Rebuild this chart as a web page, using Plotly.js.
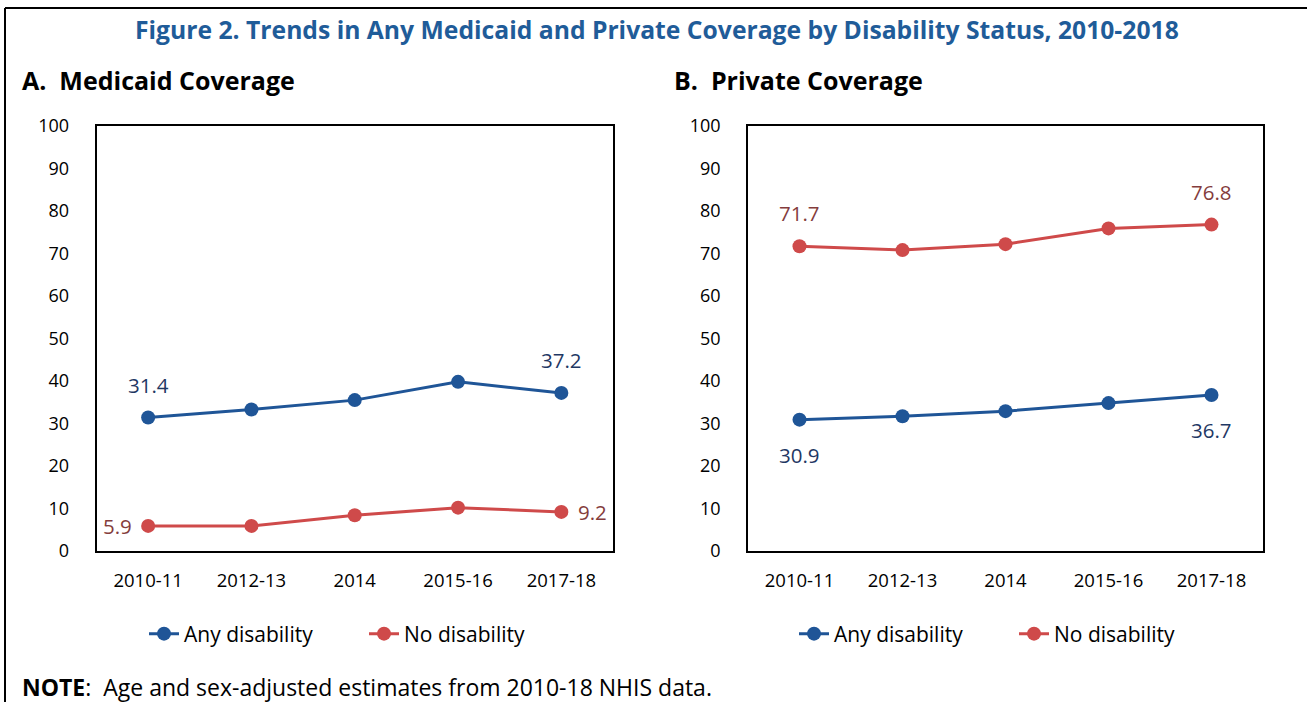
<!DOCTYPE html>
<html>
<head>
<meta charset="utf-8">
<script src="https://cdn.plot.ly/plotly-3.0.1.min.js"></script>
<style>
  html, body { margin: 0; padding: 0; background: #fff; }
  #chart { width: 1307px; height: 702px; }
</style>
</head>
<body>
<div id="chart"></div>
<script>
// ---- data ----
const periods = ['2010-11', '2012-13', '2014', '2015-16', '2017-18'];
const medicaidAny = [31.4, 33.3, 35.5, 39.8, 37.2];
const medicaidNone = [5.9, 5.9, 8.4, 10.2, 9.2];
const privateAny = [30.9, 31.7, 32.9, 34.8, 36.7];
const privateNone = [71.7, 70.8, 72.2, 75.9, 76.8];
const yTicks = [0, 10, 20, 30, 40, 50, 60, 70, 80, 90, 100];
const seriesNames = ['Any disability', 'No disability'];

const W = 1307, H = 702;
const px = v => v / W;
const py = v => 1 - v / H;

const FONT = '"Open Sans", "Noto Sans", sans-serif';
const BLUE = '#1f5597';
const RED = '#cf4a4a';
const BLUE_LBL = '#1f3864';
const RED_LBL = '#843c3c';

function trace(y, name, color, xa, ya, legend, showleg) {
  return {
    x: periods, y: y, name: name, type: 'scatter', mode: 'lines+markers',
    xaxis: xa, yaxis: ya, legend: legend, showlegend: showleg,
    line: { color: color, width: 3 },
    marker: { color: color, size: 14 },
    hoverinfo: 'skip'
  };
}

const data = [
  trace(medicaidAny, seriesNames[0], BLUE, 'x', 'y', 'legend', true),
  trace(medicaidNone, seriesNames[1], RED, 'x', 'y', 'legend', true),
  trace(privateAny, seriesNames[0], BLUE, 'x2', 'y2', 'legend2', true),
  trace(privateNone, seriesNames[1], RED, 'x2', 'y2', 'legend2', true)
];

function xAxis(domain, anchor) {
  return {
    domain: domain, anchor: anchor, type: 'category',
    range: [-0.5, 4.5], showgrid: false, zeroline: false,
    showline: true, mirror: true, linecolor: '#000', linewidth: 1.8,
    ticks: '', ticklabelstandoff: 12,
    tickfont: { family: FONT, size: 18.5, color: '#000' }
  };
}
function yAxis(anchor) {
  return {
    domain: [py(551), py(126)], anchor: anchor,
    range: [0, 100], tickmode: 'array', tickvals: yTicks,
    showgrid: false, zeroline: false,
    showline: true, mirror: true, linecolor: '#000', linewidth: 1.8,
    ticks: '', ticklabelstandoff: 22,
    tickfont: { family: FONT, size: 18, color: '#000' }
  };
}

function lbl(xref, yref, i, arr, color, xs, ys) {
  return {
    xref: xref, yref: yref, x: periods[i], y: arr[i],
    text: arr[i].toFixed(1), showarrow: false,
    xshift: xs, yshift: ys,
    font: { family: FONT, size: 20.5, color: color }
  };
}

const annotations = [
  { xref: 'paper', yref: 'paper', x: px(657), y: py(30), xanchor: 'center', yanchor: 'middle',
    text: '<b>Figure 2. Trends in Any Medicaid and Private Coverage by Disability Status, 2010-2018</b>',
    showarrow: false, font: { family: FONT, size: 24.7, color: '#1f5c99' } },
  { xref: 'paper', yref: 'paper', x: px(20), y: py(80), xanchor: 'left', yanchor: 'middle',
    text: '<b>A.  Medicaid Coverage</b>', showarrow: false,
    font: { family: FONT, size: 25, color: '#000' } },
  { xref: 'paper', yref: 'paper', x: px(672), y: py(80), xanchor: 'left', yanchor: 'middle',
    text: '<b>B.  Private Coverage</b>', showarrow: false,
    font: { family: FONT, size: 25, color: '#000' } },
  { xref: 'paper', yref: 'paper', x: px(20), y: py(687), xanchor: 'left', yanchor: 'middle',
    text: '<b>NOTE</b>:  Age and sex-adjusted estimates from 2010-18 NHIS data.', showarrow: false,
    font: { family: FONT, size: 23, color: '#000' } },
  lbl('x', 'y', 0, medicaidAny, BLUE_LBL, 0, 33),
  lbl('x', 'y', 4, medicaidAny, BLUE_LBL, 0, 33),
  lbl('x', 'y', 0, medicaidNone, RED_LBL, -31, 0),
  lbl('x', 'y', 4, medicaidNone, RED_LBL, 31, 0),
  lbl('x2', 'y2', 0, privateNone, RED_LBL, 0, 33),
  lbl('x2', 'y2', 4, privateNone, RED_LBL, 0, 33),
  lbl('x2', 'y2', 0, privateAny, BLUE_LBL, 0, -35),
  lbl('x2', 'y2', 4, privateAny, BLUE_LBL, 0, -35)
];

const legendBase = {
  orientation: 'h', yanchor: 'middle', y: py(634), xanchor: 'left',
  font: { family: FONT, size: 21, color: '#000' },
  bgcolor: 'rgba(0,0,0,0)', entrywidth: 175, entrywidthmode: 'pixels',
  tracegroupgap: 0, itemclick: false, itemdoubleclick: false
};

const layout = {
  width: W, height: H,
  margin: { l: 0, r: 0, t: 0, b: 0 },
  paper_bgcolor: '#fff', plot_bgcolor: '#fff',
  xaxis: xAxis([px(96.5), px(613)], 'y'),
  yaxis: yAxis('x'),
  xaxis2: xAxis([px(748), px(1263)], 'y2'),
  yaxis2: yAxis('x2'),
  legend: Object.assign({}, legendBase, { x: px(144) }),
  legend2: Object.assign({}, legendBase, { x: px(794) }),
  annotations: annotations,
  shapes: [
    { type: 'line', xref: 'paper', yref: 'paper', x0: px(5), x1: 1.02, y0: py(8), y1: py(8),
      line: { color: '#000', width: 2 } },
    { type: 'line', xref: 'paper', yref: 'paper', x0: px(5), x1: px(5), y0: py(8), y1: -0.02,
      line: { color: '#000', width: 2 } }
  ]
};

Plotly.newPlot('chart', data, layout, { displayModeBar: false, staticPlot: true });
</script>
</body>
</html>
